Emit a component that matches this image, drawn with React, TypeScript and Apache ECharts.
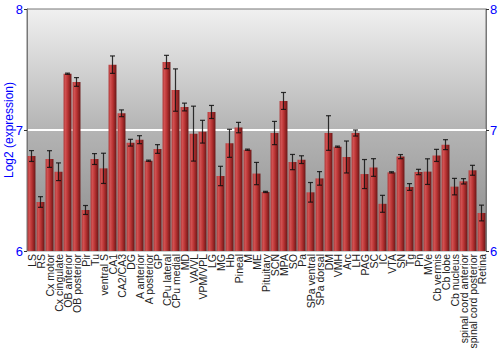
import React, { useEffect, useRef } from "react";
import * as echarts from "echarts";

const categories = [
  "LS", "RS", "Cx motor", "Cx cingulate", "OB anterior", "OB posterior", "Pir", "Tu", "ventral S", "CA1",
  "CA2/CA3", "DG", "A anterior", "A posterior", "GP", "CPu lateral", "CPu medial", "MD", "VA/VL", "VPM/VPL",
  "LG", "MG", "Hb", "Pineal", "M", "ME", "Pituitary", "SCN", "MPA", "SO",
  "Pa", "SPa ventral", "SPa dorsal", "DM", "VMH", "Arc", "LH", "PAG", "SC", "IC",
  "VTA", "SN", "Tg", "Pn", "MVe", "Cb vermis", "Cb lobe", "Cb nucleus", "spinal cord anterior", "spinal cord posterior",
  "Retina",
];

const values = [
  6.785, 6.405, 6.76, 6.655, 7.465, 7.397, 6.339, 6.76, 6.683, 7.54,
  7.138, 6.895, 6.92, 6.746, 6.843, 7.562, 7.33, 7.19, 6.97, 6.986,
  7.149, 6.62, 6.89, 7.02, 6.837, 6.64, 6.488, 6.975, 7.24, 6.735,
  6.755, 6.485, 6.6, 6.975, 6.862, 6.777, 6.975, 6.636, 6.69, 6.39,
  6.65, 6.78, 6.529, 6.653, 6.656, 6.79, 6.879, 6.532, 6.576, 6.667,
  6.314,
];

const errors = [
  0.045, 0.044, 0.069, 0.073, 0.005, 0.036, 0.037, 0.045, 0.125, 0.072,
  0.028, 0.028, 0.033, 0.005, 0.036, 0.055, 0.175, 0.032, 0.227, 0.094,
  0.054, 0.08, 0.116, 0.043, 0.005, 0.092, 0.005, 0.096, 0.07, 0.063,
  0.032, 0.081, 0.056, 0.143, 0.005, 0.132, 0.025, 0.12, 0.073, 0.07,
  0.005, 0.017, 0.028, 0.022, 0.106, 0.05, 0.041, 0.068, 0.022, 0.041,
  0.065,
];

const yTicks = [6, 7, 8];

export default function App() {
  const ref = useRef<HTMLDivElement>(null);
  useEffect(() => {
    if (!ref.current) return;
    const chart = echarts.init(ref.current, null, { renderer: "svg" });
    const errData = values.map((v, i) => [i, v - errors[i], v + errors[i]]);
    const yAxisBase = {
      type: "value" as const,
      min: yTicks[0],
      max: yTicks[yTicks.length - 1],
      interval: 1,
      axisLine: { show: true, lineStyle: { color: "#777" } },
      axisTick: { show: true, length: 3, lineStyle: { color: "#333" } },
      axisLabel: { color: "#0000ff", fontSize: 13, fontFamily: "Liberation Sans", margin: 4 },
    };
    chart.setOption({
      animation: false,
      grid: {
        left: 27,
        right: 14,
        top: 9,
        bottom: 99,
        containLabel: false,
        outerBoundsMode: "none",
        show: true,
        borderColor: "#777",
        borderWidth: 1,
        backgroundColor: new echarts.graphic.LinearGradient(0, 0, 0, 1, [
          { offset: 0, color: "#f0f0f0" },
          { offset: 0.5, color: "#b4b4b4" },
          { offset: 1, color: "#8a8a8a" },
        ]),
      },
      xAxis: {
        type: "category",
        data: categories,
        axisLine: { show: true, lineStyle: { color: "#ccc" } },
        axisTick: { show: false },
        axisLabel: {
          rotate: 90,
          interval: 0,
          color: "#222",
          fontSize: 10.5,
          fontFamily: "Liberation Sans",
          margin: 3,
        },
      },
      yAxis: [
        {
          ...yAxisBase,
          position: "left",
          name: "Log2 (expression)",
          nameLocation: "middle",
          nameGap: 12,
          nameMoveOverlap: false,
          nameTextStyle: { color: "#0000ff", fontSize: 12, fontFamily: "Liberation Sans" },
          splitLine: {
            show: true,
            showMinLine: false,
            showMaxLine: false,
            lineStyle: { color: "#ffffff", width: 2 },
          },
        },
        {
          ...yAxisBase,
          position: "right",
          splitLine: { show: false },
        },
      ],
      series: [
        {
          type: "bar",
          data: values,
          barCategoryGap: "12%",
          itemStyle: {
            color: new echarts.graphic.LinearGradient(0, 0, 1, 0, [
              { offset: 0, color: "#b03a3a" },
              { offset: 0.25, color: "#d05050" },
              { offset: 0.55, color: "#b83232" },
              { offset: 1, color: "#6a1616" },
            ]),
          },
        },
        {
          type: "custom",
          data: errData,
          z: 5,
          renderItem: (params: any, api: any) => {
            const x = api.value(0);
            const lo = api.coord([x, api.value(1)]);
            const hi = api.coord([x, api.value(2)]);
            const cap = 2.5;
            const style = { stroke: "#111", lineWidth: 1.2, opacity: 0.85 };
            return {
              type: "group",
              children: [
                { type: "line", shape: { x1: lo[0], y1: lo[1], x2: hi[0], y2: hi[1] }, style },
                { type: "line", shape: { x1: lo[0] - cap, y1: lo[1], x2: lo[0] + cap, y2: lo[1] }, style },
                { type: "line", shape: { x1: hi[0] - cap, y1: hi[1], x2: hi[0] + cap, y2: hi[1] }, style },
              ],
            };
          },
        },
      ],
    });
    return () => chart.dispose();
  }, []);
  return <div ref={ref} style={{ width: 500, height: 350, position: "absolute", left: 0, top: 0 }} />;
}
